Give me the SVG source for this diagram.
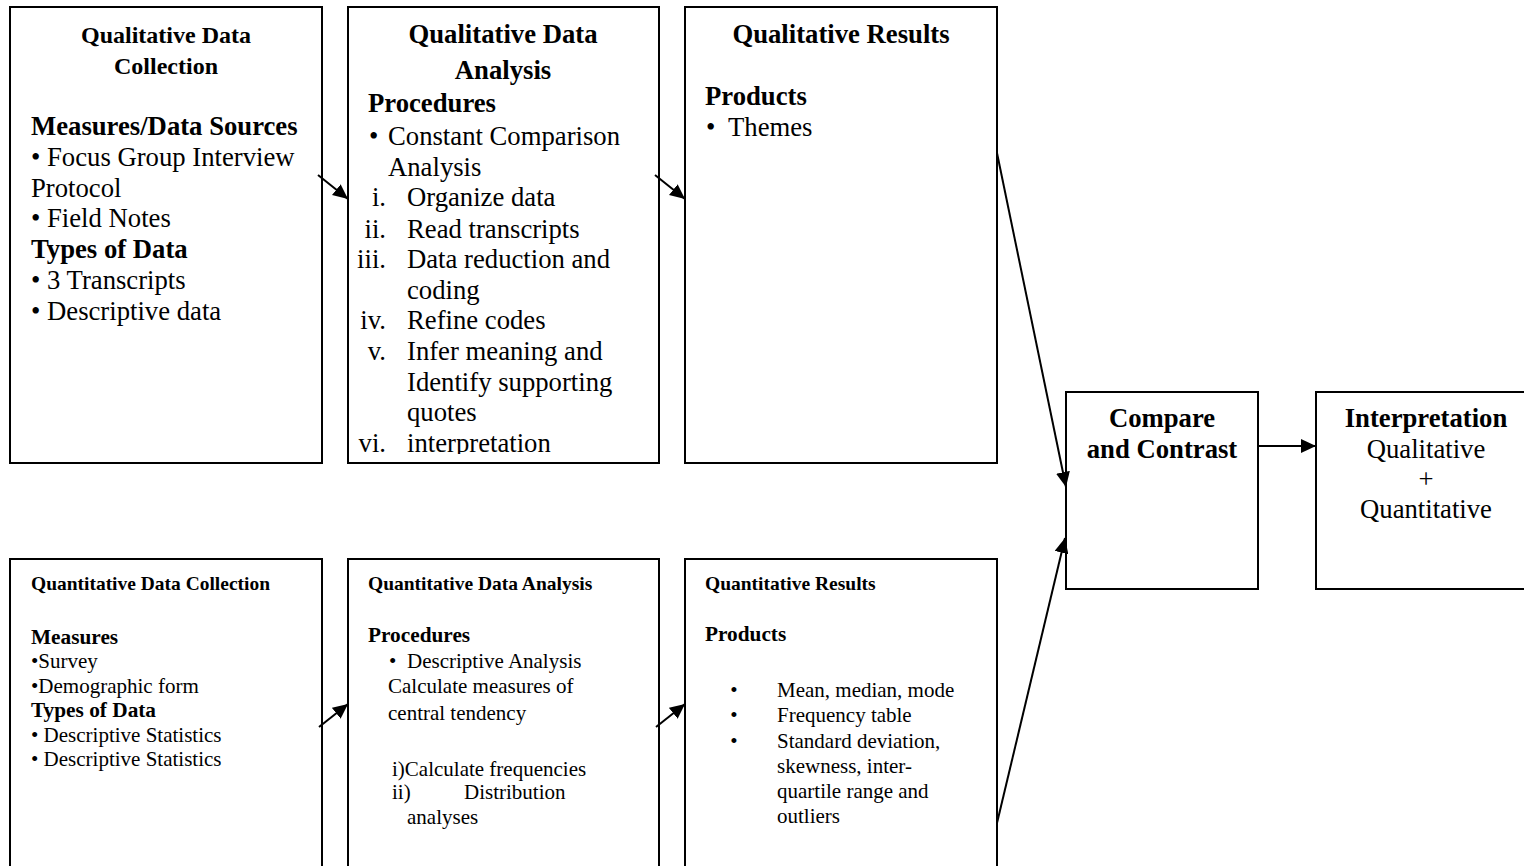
<svg xmlns="http://www.w3.org/2000/svg" width="1524" height="866" viewBox="0 0 1524 866">
<style>
text{font-family:"Liberation Serif","Times New Roman",serif;fill:#000}
.box{fill:#fff;stroke:#000;stroke-width:2}
.t1{font-size:24px;font-weight:bold;text-anchor:middle}
.tb{font-size:26.7px;font-weight:bold}
.tr{font-size:26.7px}
.sb{font-size:21.3px;font-weight:bold}
.st{font-size:19.5px;font-weight:bold}
.sr{font-size:21px}
.mid{text-anchor:middle}
.end{text-anchor:end}
.conn{stroke:#000;stroke-width:2;fill:none;marker-end:url(#ah)}
</style>
<defs>
<marker id="ah" markerUnits="userSpaceOnUse" markerWidth="16" markerHeight="14" refX="15" refY="7" orient="auto">
<path d="M0,0 L15,7 L0,14 z" fill="#000"/>
</marker>
<clipPath id="clip2"><rect x="348" y="7" width="311" height="447"/></clipPath>
</defs>
<rect width="1524" height="866" fill="#fff"/>

<g id="qual-collection">
<rect class="box" x="10" y="7" width="312" height="456"/>
<text class="t1" x="166" y="43">Qualitative Data</text>
<text class="t1" x="166" y="74">Collection</text>
<text class="tb" x="31" y="135">Measures/Data Sources</text>
<text class="tr" x="31" y="166">• Focus Group Interview</text>
<text class="tr" x="31" y="197">Protocol</text>
<text class="tr" x="31" y="227">• Field Notes</text>
<text class="tb" x="31" y="258">Types of Data</text>
<text class="tr" x="31" y="289">• 3 Transcripts</text>
<text class="tr" x="31" y="320">• Descriptive data</text>
</g>

<g id="qual-analysis">
<rect class="box" x="348" y="7" width="311" height="456"/>
<text class="tb mid" x="503" y="43">Qualitative Data</text>
<text class="tb mid" x="503" y="79">Analysis</text>
<g clip-path="url(#clip2)">
<text class="tb" x="368" y="112">Procedures</text>
<text class="tr" x="369" y="145">•</text>
<text class="tr" x="388" y="145">Constant Comparison</text>
<text class="tr" x="388" y="176">Analysis</text>
<text class="tr end" x="386" y="206">i.</text>
<text class="tr" x="407" y="206">Organize data</text>
<text class="tr end" x="386" y="238">ii.</text>
<text class="tr" x="407" y="238">Read transcripts</text>
<text class="tr end" x="386" y="268">iii.</text>
<text class="tr" x="407" y="268">Data reduction and</text>
<text class="tr" x="407" y="299">coding</text>
<text class="tr end" x="386" y="329">iv.</text>
<text class="tr" x="407" y="329">Refine codes</text>
<text class="tr end" x="386" y="360">v.</text>
<text class="tr" x="407" y="360">Infer meaning and</text>
<text class="tr" x="407" y="391">Identify supporting</text>
<text class="tr" x="407" y="421">quotes</text>
<text class="tr end" x="386" y="452">vi.</text>
<text class="tr" x="407" y="452">interpretation</text>
</g>
</g>

<g id="qual-results">
<rect class="box" x="685" y="7" width="312" height="456"/>
<text class="tb mid" x="841" y="43">Qualitative Results</text>
<text class="tb" x="705" y="105">Products</text>
<text class="tr" x="706" y="136">•</text>
<text class="tr" x="728" y="136">Themes</text>
</g>

<g id="quant-collection">
<rect class="box" x="10" y="559" width="312" height="330"/>
<text class="st" x="31" y="590" textLength="239" lengthAdjust="spacingAndGlyphs">Quantitative Data Collection</text>
<text class="sb" x="31" y="644">Measures</text>
<text class="sr" x="31" y="668">•Survey</text>
<text class="sr" x="31" y="693">•Demographic form</text>
<text class="sb" x="31" y="717">Types of Data</text>
<text class="sr" x="31" y="742">• Descriptive Statistics</text>
<text class="sr" x="31" y="766">• Descriptive Statistics</text>
</g>

<g id="quant-analysis">
<rect class="box" x="348" y="559" width="311" height="330"/>
<text class="st" x="368" y="590">Quantitative Data Analysis</text>
<text class="sb" x="368" y="642">Procedures</text>
<text class="sr" x="389" y="668">•</text>
<text class="sr" x="407" y="668">Descriptive Analysis</text>
<text class="sr" x="388" y="693">Calculate measures of</text>
<text class="sr" x="388" y="720">central tendency</text>
<text class="sr" x="392" y="776">i)Calculate frequencies</text>
<text class="sr" x="392" y="799">ii)</text>
<text class="sr" x="464" y="799">Distribution</text>
<text class="sr" x="407" y="824">analyses</text>
</g>

<g id="quant-results">
<rect class="box" x="685" y="559" width="312" height="330"/>
<text class="st" x="705" y="590">Quantitative Results</text>
<text class="sb" x="705" y="641">Products</text>
<text class="sr mid" x="734" y="697">•</text>
<text class="sr" x="777" y="697">Mean, median, mode</text>
<text class="sr mid" x="734" y="722">•</text>
<text class="sr" x="777" y="722">Frequency table</text>
<text class="sr mid" x="734" y="748">•</text>
<text class="sr" x="777" y="748">Standard deviation,</text>
<text class="sr" x="777" y="773">skewness, inter-</text>
<text class="sr" x="777" y="798">quartile range and</text>
<text class="sr" x="777" y="823">outliers</text>
</g>

<g id="compare">
<rect class="box" x="1066" y="392" width="192" height="197"/>
<text class="tb mid" x="1162" y="427">Compare</text>
<text class="tb mid" x="1162" y="458">and Contrast</text>
</g>

<g id="interpretation">
<rect class="box" x="1316" y="392" width="230" height="197"/>
<text class="tb mid" x="1426" y="427">Interpretation</text>
<text class="tr mid" x="1426" y="458">Qualitative</text>
<text class="tr mid" x="1426" y="488">+</text>
<text class="tr mid" x="1426" y="518">Quantitative</text>
</g>

<g id="connectors">
<line class="conn" x1="318" y1="175" x2="348" y2="199"/>
<line class="conn" x1="655" y1="175" x2="685" y2="199"/>
<line class="conn" x1="997" y1="153" x2="1066" y2="487"/>
<line class="conn" x1="319" y1="727" x2="348" y2="704"/>
<line class="conn" x1="656" y1="727" x2="685" y2="704"/>
<line class="conn" x1="997" y1="823" x2="1065" y2="538"/>
<line class="conn" x1="1258" y1="446" x2="1316" y2="446"/>
</g>
</svg>
